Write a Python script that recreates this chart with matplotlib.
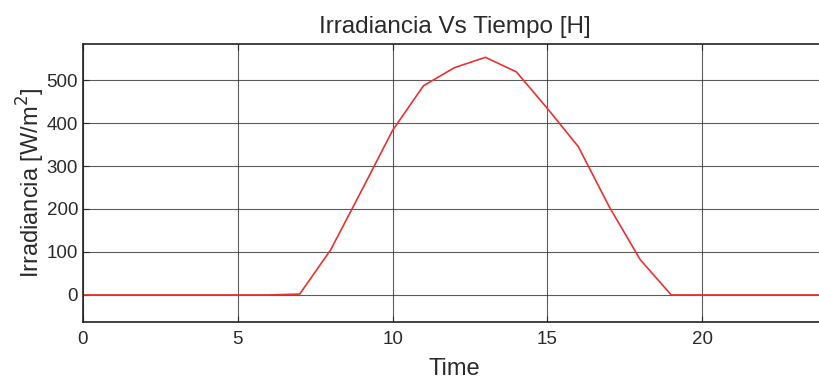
import matplotlib
matplotlib.use("Agg")
import matplotlib.pyplot as plt

plt.rcParams['font.family'] = ['Liberation Sans', 'DejaVu Sans']

# hourly irradiance
hours = list(range(25))
irradiance = [0, 0, 0, 0, 0, 0, 0, 2, 105, 243, 383, 487, 529, 553, 519,
              434, 345, 205, 82, 0, 0, 0, 0, 0, 0]
xticks = [0, 5, 10, 15, 20]
yticks = [0, 100, 200, 300, 400, 500]

fig = plt.figure(figsize=(8.19, 3.81), dpi=100)
ax = fig.add_axes([83/819, 1 - 322/381, 743/819, 278/381])

ax.plot(hours, irradiance, color='#e8322f', lw=1.2)
ax.set_xlim(0, 24)
ax.set_ylim(-63, 584)
ax.set_xticks(xticks)
ax.set_yticks(yticks)
ax.grid(True, color='#333333', lw=0.8, alpha=0.8)
ax.tick_params(direction='in', length=4, labelsize=13.5, colors='#2a2a2a',
               top=True, right=True)
ax.tick_params(axis='x', pad=6.5)
ax.tick_params(axis='y', pad=3.5)
for s in ax.spines.values():
    s.set_linewidth(1.2)
    s.set_color('#222222')

ax.set_title('Irradiancia Vs Tiempo [H]', fontsize=17.5, color='#2a2a2a', pad=8)
ax.set_xlabel('Time', fontsize=17, color='#2a2a2a', labelpad=7)
ax.set_ylabel('Irradiancia [W/m$^2$]', fontsize=17, color='#2a2a2a', labelpad=0)

fig.savefig('out.png', dpi=100)
